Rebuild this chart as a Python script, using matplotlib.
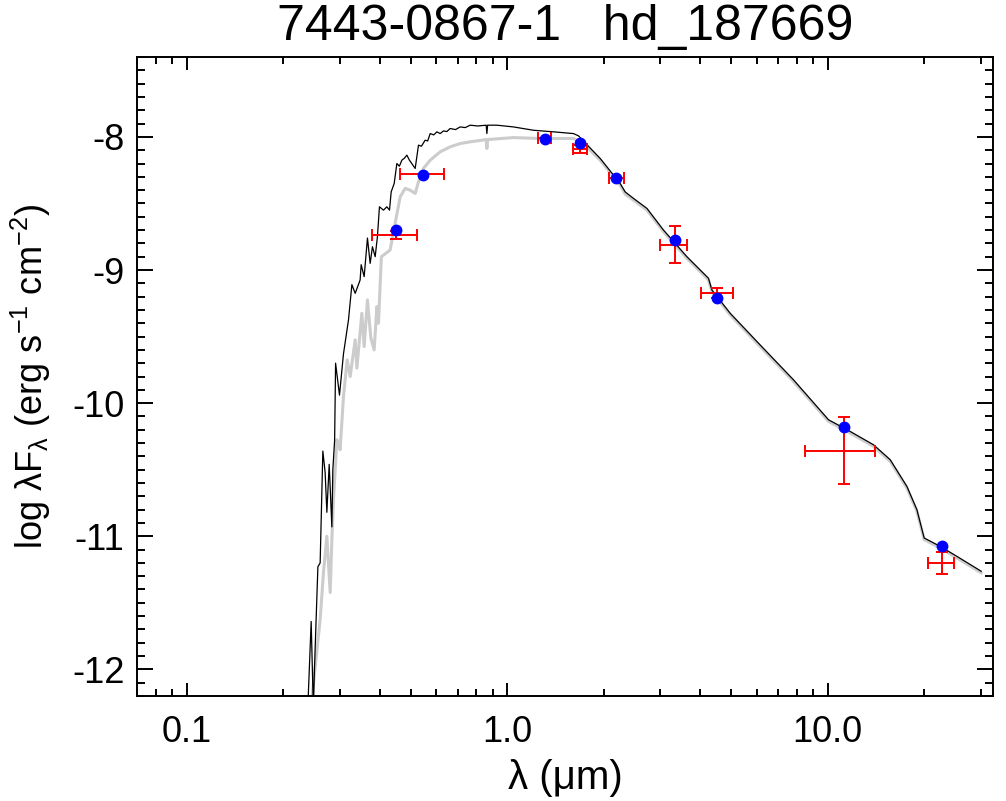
import matplotlib
matplotlib.use('Agg')
import matplotlib.pyplot as plt
from matplotlib.ticker import FixedLocator, FixedFormatter, MultipleLocator

plt.rcParams['font.family'] = ['Liberation Sans', 'DejaVu Sans']
plt.rcParams['mathtext.default'] = 'regular'

# Model SED, black
black_wave = [0.236, 0.2446, 0.2485, 0.2506, 0.2567, 0.2609, 0.266, 0.2704, 0.2738,
              0.2784, 0.2838, 0.2858, 0.2895, 0.2915, 0.2998, 0.3085, 0.3198, 0.3277,
              0.3356, 0.3477, 0.3503, 0.3579, 0.3665, 0.3737, 0.3799, 0.3874, 0.3937,
              0.3995, 0.4112, 0.4213, 0.4294, 0.4346, 0.4441, 0.4527, 0.4610, 0.4692,
              0.4780, 0.4864, 0.4955, 0.5164, 0.5288, 0.5400, 0.5547, 0.5650, 0.5752,
              0.5900, 0.6035, 0.6180, 0.6327, 0.6480, 0.6638, 0.6900, 0.7134, 0.7400,
              0.7666, 0.8100, 0.860, 0.8643, 0.869, 0.9287, 1.046, 1.208, 1.395, 1.61,
              1.669, 1.951, 2.252, 2.334, 2.478, 2.729, 3.074, 3.637, 4.247, 4.352,
              4.964, 6.157, 7.823, 10.06, 11.76, 13.9, 15.67, 17.67, 18.98, 20.0,
              22.44, 25.3, 30.13]
black_logf = [-12.6, -11.64, -12.3, -11.98, -11.23, -11.20, -10.36, -10.52, -10.82,
              -10.46, -10.93, -10.50, -10.28, -9.70, -9.94, -9.63, -9.375, -9.11,
              -9.175, -9.075, -8.96, -9.05, -8.76, -8.95, -8.825, -8.90, -8.75,
              -8.525, -8.55, -8.525, -8.55, -8.413, -8.35, -8.20, -8.22, -8.175,
              -8.16, -8.137, -8.175, -8.237, -8.062, -8.07, -8.025, -8.03, -7.975,
              -7.985, -7.962, -7.975, -7.955, -7.96, -7.937, -7.945, -7.925, -7.93,
              -7.912, -7.918, -7.912, -7.975, -7.912, -7.912, -7.925, -7.95, -7.962, -7.975,
              -7.992, -8.162, -8.35, -8.413, -8.462, -8.537, -8.70, -8.90, -9.062, -9.15,
              -9.325, -9.563, -9.825, -10.125, -10.213, -10.313, -10.425, -10.626, -10.80, -11.013,
              -11.076, -11.151, -11.263]

# Model SED, grey
grey_wave = [0.240, 0.2463, 0.2609, 0.2672, 0.2738, 0.2804, 0.2838, 0.2871, 0.2943,
             0.2975, 0.3012, 0.3085, 0.3168, 0.3237, 0.3356, 0.3397, 0.3520, 0.3579,
             0.3665, 0.3756, 0.3846, 0.3922, 0.3967, 0.4050, 0.4313, 0.4471, 0.4636,
             0.4806, 0.4981, 0.5164, 0.5288, 0.5479, 0.5752, 0.6180, 0.6638, 0.7134,
             0.7666, 0.860, 0.8643, 0.869, 1.046, 1.267, 1.61, 1.73, 1.951, 2.252,
             2.334, 2.478, 2.729, 3.074, 3.637, 4.247, 4.352, 4.964, 6.157, 7.823,
             10.06, 11.76, 13.9, 15.67, 17.67, 18.98, 20.0, 22.44, 25.3, 30.13]
grey_logf = [-12.6, -12.2, -11.626, -11.273, -11.0, -11.423, -11.026, -10.725, -10.275,
             -10.298, -10.35, -9.95, -9.675, -9.80, -9.525, -9.737, -9.325, -9.575,
             -9.225, -9.512, -9.60, -9.275, -9.40, -8.90, -8.85, -8.65, -8.45,
             -8.387, -8.40, -8.425, -8.337, -8.237, -8.175, -8.112, -8.075, -8.05,
             -8.037, -8.02, -8.087, -8.02, -8.005, -8.012, -8.012, -8.05, -8.175, -8.362,
             -8.43, -8.475, -8.55, -8.712, -8.912, -9.075, -9.162, -9.337, -9.575, -9.837,
             -10.137, -10.225, -10.325, -10.437, -10.638, -10.812, -11.025, -11.088, -11.163, -11.275]

# Model photometry (blue) and observed photometry (red)
band_wave = [0.45, 0.548, 1.31, 1.69, 2.19, 3.33, 4.5, 11.26, 22.8]
model_logf = [-8.70, -8.285, -8.017, -8.045, -8.307, -8.775, -9.212, -10.183, -11.07]
obs_logf = [-8.735, -8.28, -8.012, -8.092, -8.305, -8.81, -9.17, -10.358, -11.20]
obs_err = [0.03, 0.0, 0.0, 0.028, 0.0, 0.137, 0.037, 0.253, 0.085]
band_lo = [0.378, 0.464, 1.252, 1.603, 2.08, 3.0, 4.02, 8.51, 20.6]
band_hi = [0.523, 0.633, 1.368, 1.78, 2.31, 3.65, 5.07, 14.07, 24.8]

fig = plt.figure(figsize=(10.06, 8.01), dpi=100)
ax = fig.add_axes([0.1362, 0.1311, 0.8509, 0.7977])

ax.plot(grey_wave, grey_logf, color='#cccccc', lw=2.2, zorder=1)
ax.plot(black_wave, black_logf, color='black', lw=0.9, zorder=2)

xerr = [[w - lo for w, lo in zip(band_wave, band_lo)],
        [hi - w for w, hi in zip(band_wave, band_hi)]]
ax.errorbar(band_wave, obs_logf, xerr=xerr, yerr=obs_err, fmt='none',
            ecolor='red', elinewidth=1.4, capsize=4.5, capthick=1.4, zorder=3)
ax.plot(band_wave, model_logf, 'o', color='blue', ms=7.5, mec='blue', zorder=4)

ax.set_xscale('log')
ax.set_xlim(0.07, 32.8)
ax.set_ylim(-12.2, -7.4)

ax.xaxis.set_major_locator(FixedLocator([0.1, 1.0, 10.0]))
ax.xaxis.set_major_formatter(FixedFormatter(['0.1', '1.0', '10.0']))
minors = [0.07, 0.08, 0.09] + [i / 10 for i in range(2, 10)] + list(range(2, 10)) + [20, 30]
ax.xaxis.set_minor_locator(FixedLocator(minors))
ax.xaxis.set_minor_formatter(FixedFormatter([''] * len(minors)))
ax.yaxis.set_major_locator(MultipleLocator(1))
ax.yaxis.set_minor_locator(MultipleLocator(0.1))
ax.set_yticks([-12, -11, -10, -9, -8])
ax.set_yticklabels(['-12', '-11', '-10', '-9', '-8'])

ax.tick_params(which='both', direction='in', top=True, right=True, width=1.4,
               labelsize=26, colors='black')
ax.tick_params(axis='y', which='major', length=11.5, pad=9)
ax.tick_params(axis='y', which='minor', length=5.8)
ax.tick_params(axis='x', which='major', length=9.4, pad=14)
ax.tick_params(axis='x', which='minor', length=5)
for s in ax.spines.values():
    s.set_linewidth(1.4)

ax.set_xlabel('λ (μm)', fontsize=29, labelpad=6)
ax.set_ylabel('log λF$_{λ}$ (erg s$^{-1}$ cm$^{-2}$)', fontsize=26, labelpad=14)
ax.set_title('7443-0867-1   hd_187669', fontsize=36, pad=12)

fig.savefig('out.png', dpi=100)
